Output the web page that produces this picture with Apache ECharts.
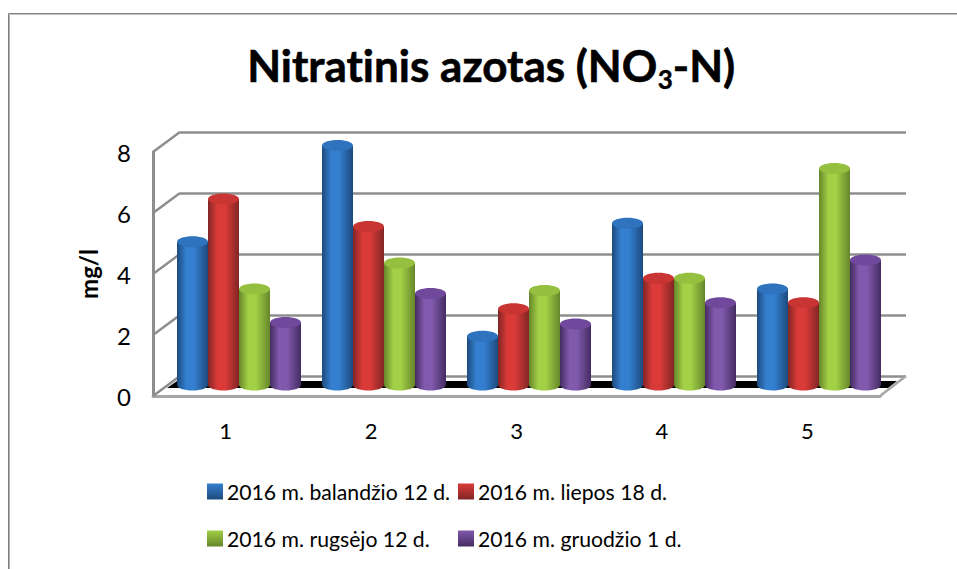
<!DOCTYPE html>
<html lang="lt">

<head>
    <meta charset="utf-8">
    <title>Nitratinis azotas</title>
    <script src="https://cdn.jsdelivr.net/npm/echarts@6/dist/echarts.min.js"></script>
    <style type="text/css">
        html, body { margin: 0; padding: 0; background: #fff; }
        #chart { width: 957px; height: 569px; }
        /* Lato joins "ti" otherwise, the original does not */
        #chart text { font-variant-ligatures: none; }
    </style>
</head>

<body>
    <div id="chart"></div>
    <script>
        var categories = ['1', '2', '3', '4', '5'];
        var april = [4.7, 7.85, 1.6, 5.3, 3.15];
        var july = [6.1, 5.2, 2.5, 3.5, 2.7];
        var september = [3.15, 4.0, 3.1, 3.5, 7.1];
        var december = [2.05, 3.0, 2.0, 2.7, 4.1];
        var seriesNames = ['2016 m. balandžio 12 d.', '2016 m. liepos 18 d.', '2016 m. rugsėjo 12 d.', '2016 m. gruodžio 1 d.'];
        var valueTicks = [0, 2, 4, 6, 8];

        var font = 'Lato';
        var lineGrey = '#8e8e8e';
        // edge, middle, top colours for each cylinder
        var shades = [
            ['#1d4a7d', '#347fd0', '#2f72bd'],
            ['#812525', '#da3b38', '#c83533'],
            ['#66852a', '#a2d046', '#95c03f'],
            ['#442c61', '#8159ad', '#70499c']
        ];

        function bodyGradient(s) {
            return new echarts.graphic.LinearGradient(0, 0, 1, 0, [
                { offset: 0, color: s[0] },
                { offset: 0.3, color: s[1] },
                { offset: 0.55, color: s[1] },
                { offset: 1, color: s[0] }
            ]);
        }

        function cylinder(index) {
            return function (params, api) {
                var barW = 31;
                var top = api.coord([api.value(0), api.value(1)]);
                var base = api.coord([api.value(0), 0]);
                var x = top[0] + (index - 1.5) * barW - barW / 2;
                var ry = 5.5;
                return {
                    type: 'group',
                    children: [
                        { type: 'ellipse', shape: { cx: x + barW / 2, cy: base[1], rx: barW / 2, ry: ry }, style: { fill: bodyGradient(shades[index]) } },
                        { type: 'rect', shape: { x: x, y: top[1], width: barW, height: base[1] - top[1] }, style: { fill: bodyGradient(shades[index]) } },
                        { type: 'ellipse', shape: { cx: x + barW / 2, cy: top[1], rx: barW / 2, ry: ry }, style: { fill: shades[index][2] } }
                    ]
                };
            };
        }

        // slanted wall lines from the back wall to the front axis
        function depthLine(params, api) {
            var y = api.coord([0, api.value(0)])[1];
            var x = params.coordSys.x;
            return {
                type: 'line',
                shape: { x1: x, y1: y, x2: x - 27, y2: y + 20 },
                style: { stroke: lineGrey, lineWidth: 2.5 }
            };
        }

        // black floor edge and the right hand floor corner
        function floor(params, api) {
            var y = api.coord([0, 0])[1];
            var x = params.coordSys.x;
            var r = x + params.coordSys.width;
            return {
                type: 'group',
                children: [
                    { type: 'polygon', shape: { points: [[x - 3, y + 5], [r - 9, y + 5], [r - 18, y + 12], [x - 13, y + 12]] }, style: { fill: '#000' } },
                    { type: 'line', shape: { x1: r, y1: y, x2: r - 26, y2: y + 20 }, style: { stroke: '#a6a6a6', lineWidth: 2.5 } }
                ]
            };
        }

        function legendItem(i, left, top) {
            return {
                left: left,
                top: top,
                icon: 'rect',
                itemWidth: 16,
                itemHeight: 16,
                itemGap: 0,
                selectedMode: false,
                textStyle: { fontFamily: font, fontSize: 21.2, color: '#000', padding: [0, 0, 0, -1] },
                data: [{
                    name: seriesNames[i],
                    itemStyle: {
                        color: new echarts.graphic.LinearGradient(0, 0, 0, 1, [
                            { offset: 0, color: shades[i][1] },
                            { offset: 1, color: shades[i][0] }
                        ])
                    }
                }]
            };
        }

        var chart = echarts.init(document.getElementById('chart'), null, { renderer: 'svg' });
        var seriesValues = [april, july, september, december];

        var option = {
            animation: false,
            backgroundColor: '#fff',
            title: {
                left: 486,
                textAlign: 'center',
                top: 32,
                text: '{a|Nitratinis azotas (NO}{s|3}{a|-N)}',
                textStyle: {
                    rich: {
                        a: { fontFamily: font, fontWeight: 'bold', fontSize: 44, color: '#000', lineHeight: 56, textBorderColor: '#000', textBorderWidth: 0.6 },
                        s: { fontFamily: font, fontWeight: 'bold', fontSize: 26, color: '#000', lineHeight: 56, padding: [28, 0, 0, 0], textBorderColor: '#000', textBorderWidth: 0.4 }
                    }
                }
            },
            legend: [
                legendItem(0, 202, 476),
                legendItem(1, 453, 476),
                legendItem(2, 202, 523),
                legendItem(3, 453, 523)
            ],
            grid: [
                { left: 180, right: 51, top: 132, bottom: 193 },
                { left: 153, right: 77, top: 152, bottom: 173 },
                { left: 166.5, right: 65.5, top: 141, bottom: 184 }
            ],
            xAxis: [
                { gridIndex: 0, type: 'category', data: categories, axisLine: { show: false }, axisTick: { show: false }, axisLabel: { show: false } },
                {
                    gridIndex: 1, type: 'category', data: categories,
                    axisLine: { lineStyle: { color: '#a6a6a6', width: 3 } },
                    axisTick: { show: false },
                    axisLabel: { fontFamily: font, fontSize: 22, color: '#000', margin: 23 }
                },
                { gridIndex: 2, type: 'category', data: categories, axisLine: { show: false }, axisTick: { show: false }, axisLabel: { show: false } }
            ],
            yAxis: [
                {
                    gridIndex: 0, type: 'value', min: 0, max: 8, interval: 2,
                    axisLine: { show: false }, axisTick: { show: false }, axisLabel: { show: false },
                    splitLine: { lineStyle: { color: lineGrey, width: 2.5 } }
                },
                {
                    gridIndex: 1, type: 'value', min: 0, max: 8, interval: 2,
                    name: 'mg/l',
                    nameLocation: 'middle',
                    nameGap: 53,
                    nameTextStyle: { fontFamily: font, fontWeight: 'bold', fontSize: 24, color: '#000' },
                    axisLine: { show: true, lineStyle: { color: lineGrey, width: 3 } },
                    axisTick: { show: false },
                    axisLabel: { fontFamily: font, fontSize: 24, color: '#000', margin: 22, padding: [7, 0, 0, 0] },
                    splitLine: { show: false }
                },
                { gridIndex: 2, type: 'value', min: 0, max: 8, interval: 2, show: false, splitLine: { show: false } }
            ],
            series: [
                { type: 'custom', xAxisIndex: 0, yAxisIndex: 0, z: 1, silent: true, data: valueTicks.map(function (v) { return [v]; }), renderItem: depthLine },
                { type: 'custom', xAxisIndex: 0, yAxisIndex: 0, z: 1, silent: true, data: [[0]], renderItem: floor }
            ].concat(seriesNames.map(function (name, i) {
                return {
                    name: name,
                    type: 'custom',
                    xAxisIndex: 2,
                    yAxisIndex: 2,
                    z: 3,
                    encode: { x: 0, y: 1 },
                    itemStyle: { color: shades[i][1] },
                    data: seriesValues[i].map(function (v, k) { return [k, v]; }),
                    renderItem: cylinder(i)
                };
            })),
            // chart frame, only top and left show in the picture
            graphic: [
                { type: 'line', shape: { x1: 8.5, y1: 13.5, x2: 957, y2: 13.5 }, style: { stroke: '#808080', lineWidth: 1 } },
                { type: 'line', shape: { x1: 9.5, y1: 14.5, x2: 957, y2: 14.5 }, style: { stroke: '#c4c4c4', lineWidth: 1 } },
                { type: 'line', shape: { x1: 8.5, y1: 13.5, x2: 8.5, y2: 569 }, style: { stroke: '#808080', lineWidth: 1 } },
                { type: 'line', shape: { x1: 9.5, y1: 14.5, x2: 9.5, y2: 569 }, style: { stroke: '#b0b0b0', lineWidth: 1 } }
            ]
        };
        chart.setOption(option);
    </script>
</body>

</html>
